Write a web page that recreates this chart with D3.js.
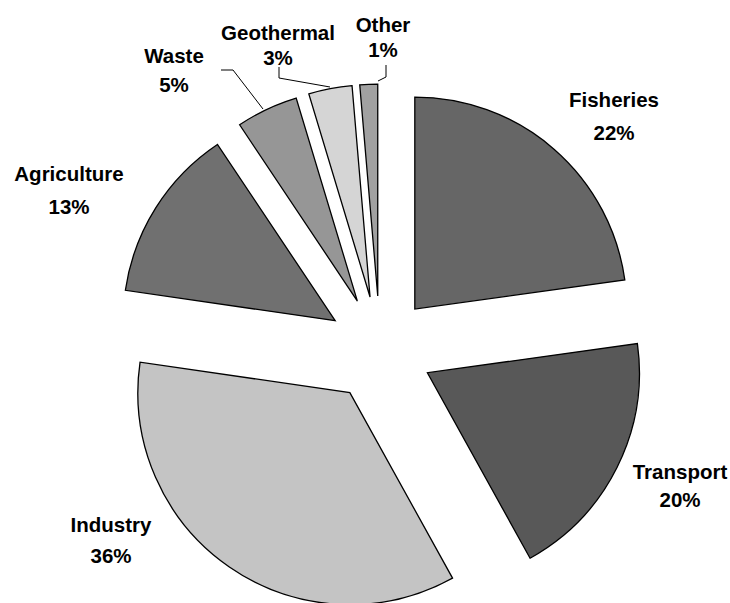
<!DOCTYPE html>
<html>
<head>
<meta charset="utf-8">
<script src="https://cdn.jsdelivr.net/npm/d3@7"></script>
<style>
  body { margin: 0; background: #fff; }
  text { font-family: "Liberation Sans", Arial, sans-serif; font-weight: bold; font-size: 20.5px; fill: #000; }
</style>
</head>
<body>
<script>
// slice data (clockwise from 12 o'clock)
var categories = ["Fisheries", "Transport", "Industry", "Agriculture", "Waste", "Geothermal", "Other"];
var shares = [22.75, 19.1, 35.25, 13.3, 4.7, 3.3, 1.35];
var pctLabels = ["22%", "20%", "36%", "13%", "5%", "3%", "1%"];
var greys = ["#666666", "#585858", "#c4c4c4", "#707070", "#969696", "#d5d5d5", "#a1a1a1"];

// label layout: [centre x, baseline name, baseline pct]
var labelPos = [
  [614, 107, 140],
  [680, 479, 507],
  [111, 532, 563],
  [69, 181, 214],
  [174, 63, 92],
  [278, 40, 65],
  [383, 32, 57]
];
// leader lines (Waste, Geothermal, Other)
var leaders = [
  [[221, 70], [233, 70], [263, 109]],
  [[279, 67], [279, 78], [330, 87]],
  [[386, 65], [386, 77], [378, 81]]
];

var W = 730, H = 603;
var cx = 380, cy = 349, R = 212, explode = 53;

var svg = d3.select("body")
  .append("svg")
  .attr("width", W)
  .attr("height", H);

var pie = d3.pie().sort(null).value(function(d) { return d; });
var arc = d3.arc().innerRadius(0).outerRadius(R);
var arcs = pie(shares);

svg.append("g")
  .attr("transform", "translate(" + cx + "," + cy + ")")
  .selectAll("path")
  .data(arcs)
  .enter()
  .append("path")
  .attr("d", arc)
  .attr("transform", function(d) {
    var a = (d.startAngle + d.endAngle) / 2;
    return "translate(" + (explode * Math.sin(a)) + "," + (-explode * Math.cos(a)) + ")";
  })
  .attr("fill", function(d, i) { return greys[i]; })
  .attr("stroke", "#000")
  .attr("stroke-width", 1.3)
  .attr("stroke-linejoin", "miter");

var line = d3.line();
svg.selectAll("path.leader")
  .data(leaders)
  .enter()
  .append("path")
  .attr("class", "leader")
  .attr("d", line)
  .attr("fill", "none")
  .attr("stroke", "#000")
  .attr("stroke-width", 1);

var labels = svg.selectAll("g.lbl")
  .data(categories)
  .enter()
  .append("g")
  .attr("class", "lbl");
labels.append("text")
  .attr("x", function(d, i) { return labelPos[i][0]; })
  .attr("y", function(d, i) { return labelPos[i][1]; })
  .attr("text-anchor", "middle")
  .text(function(d) { return d; });
labels.append("text")
  .attr("x", function(d, i) { return labelPos[i][0]; })
  .attr("y", function(d, i) { return labelPos[i][2]; })
  .attr("text-anchor", "middle")
  .text(function(d, i) { return pctLabels[i]; });
</script>
</body>
</html>
